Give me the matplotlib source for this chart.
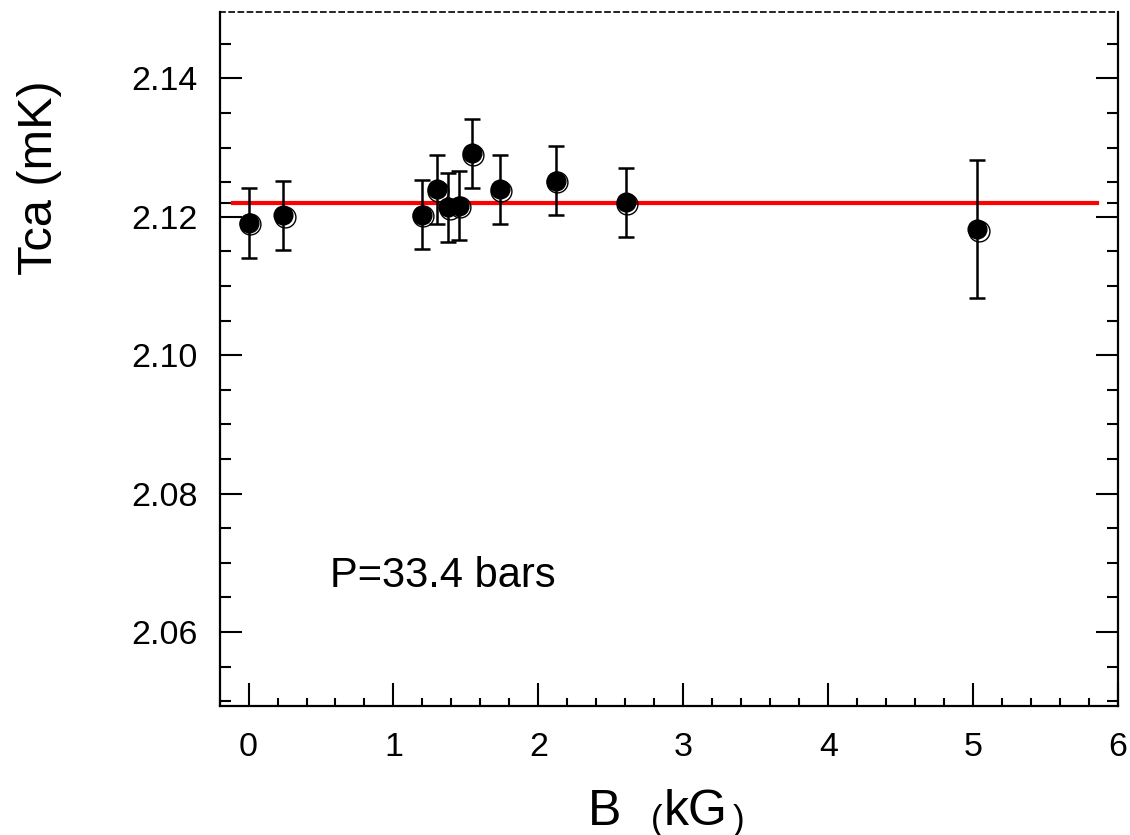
"""
Tca vs magnetic field at P=33.4 bars
"""

import numpy as np
import matplotlib
matplotlib.use('Agg')
import matplotlib.pyplot as plt
import matplotlib.transforms as mtransforms
from matplotlib.ticker import FixedLocator, MultipleLocator

# data
field_kg = [0.0, 0.24, 1.195, 1.298, 1.378, 1.452, 1.54, 1.735, 2.121, 2.605, 5.03]
tca_mk = [2.1191, 2.1202, 2.1203, 2.1240, 2.1214, 2.1216, 2.1292, 2.1240, 2.1252, 2.1221, 2.1182]
tca_err = [0.005, 0.005, 0.005, 0.005, 0.005, 0.005, 0.005, 0.005, 0.005, 0.005, 0.010]

fit_level = 2.122
fit_range = [-0.107, 5.853]

y_major = [2.06, 2.08, 2.10, 2.12, 2.14]
y_labels = ['2.06', '2.08', '2.10', '2.12', '2.14']

plt.rcParams['font.family'] = ['Liberation Sans', 'DejaVu Sans']

fig = plt.figure(figsize=(11.3, 8.35), dpi=100)
ax = fig.add_axes([0.1943, 0.1545, 0.9894 - 0.1943, 0.9856 - 0.1545])

# fit line
ax.plot(fit_range, [fit_level, fit_level], color='#ff0000', lw=3, zorder=2)

# error bars + filled points
ax.errorbar(field_kg, tca_mk, yerr=tca_err, fmt='o', color='black', ms=13.5,
            ecolor='black', elinewidth=1.8, capsize=6, capthick=1.8, zorder=3)
# the slightly offset open circle around every point
shift = mtransforms.ScaledTranslation(1.0 / 72, -1.0 / 72, fig.dpi_scale_trans)
ax.plot(field_kg, tca_mk, 'o', ms=15, mfc='none', mec='black', mew=1.0,
        transform=ax.transData + shift, zorder=4)

ax.set_xlim(-0.2, 6.0)
ax.set_ylim(2.0493, 2.1496)

ax.xaxis.set_major_locator(MultipleLocator(1))
ax.xaxis.set_minor_locator(MultipleLocator(0.2))
ax.yaxis.set_major_locator(FixedLocator(y_major))
ax.set_yticklabels(y_labels)
y_minor = list(np.arange(2.05, 2.1501, 0.005)) + [fit_level]
ax.yaxis.set_minor_locator(FixedLocator(y_minor))

ax.tick_params(axis='both', which='both', direction='in', width=1.5, colors='black')
ax.tick_params(axis='x', which='major', length=16.5, pad=19, labelsize=24.5, top=False)
ax.tick_params(axis='x', which='minor', length=6, top=False)
ax.tick_params(axis='y', which='major', length=16, pad=16, labelsize=24.5, right=True)
ax.tick_params(axis='y', which='minor', length=8, right=True)

for side in ['left', 'right', 'bottom']:
    ax.spines[side].set_linewidth(1.6)
ax.spines['top'].set_linewidth(1.2)
ax.spines['top'].set_linestyle((0, (3, 2.5)))

ax.text(0.56, 2.0665, 'P=33.4 bars', fontsize=30, ha='left', va='baseline')

# x label: "B (kG)" with small, lowered brackets
base_y = 1 - 825 / 835
fig.text(588 / 1130, base_y, 'B', fontsize=36, ha='left', va='baseline')
fig.text(651 / 1130, base_y - 5 / 835, '(', fontsize=25, ha='left', va='baseline')
fig.text(664 / 1130, base_y, 'kG', fontsize=36, ha='left', va='baseline')
fig.text(733 / 1130, base_y - 5 / 835, ')', fontsize=25, ha='left', va='baseline')

fig.text(40 / 1130, 1 - 178 / 835, 'Tca (mK)', fontsize=35, rotation=90, ha='center', va='center')

fig.savefig('out.png', dpi=100)
